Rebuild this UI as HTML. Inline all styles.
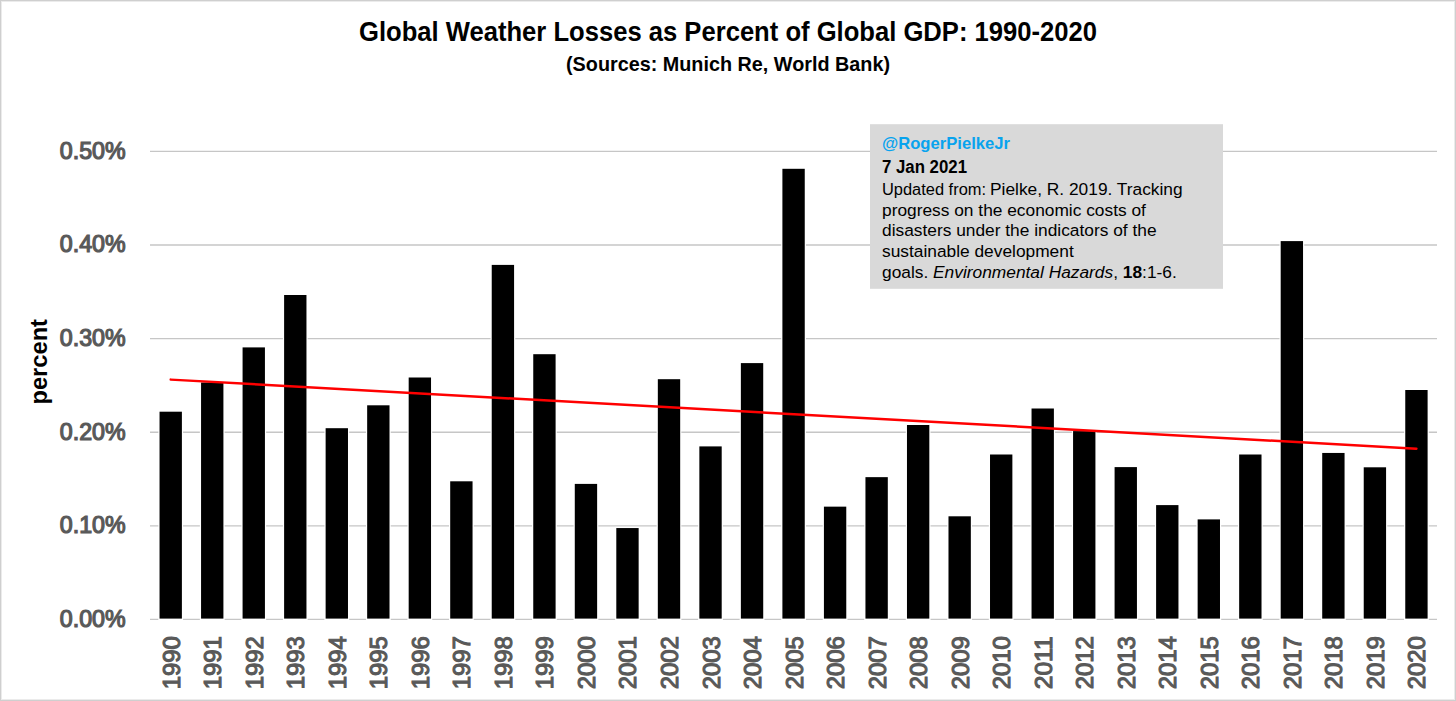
<!DOCTYPE html><html><head><meta charset="utf-8"><title>Global Weather Losses as Percent of Global GDP: 1990-2020</title><style>html,body{margin:0;padding:0;background:#fff;}body{width:1456px;height:701px;overflow:hidden;}svg{display:block;}text{font-family:"Liberation Sans",Arial,sans-serif;}</style></head><body><svg width="1456" height="701" viewBox="0 0 1456 701"><rect x="0" y="0" width="1456" height="701" fill="#ffffff"/><rect x="1.5" y="1.5" width="1453" height="698" fill="none" stroke="#ebebeb" stroke-width="1"/><rect x="0.5" y="0.5" width="1455" height="700" fill="none" stroke="#cfcfcf" stroke-width="1"/><text x="728" y="41.4" text-anchor="middle" font-size="26.8" font-weight="bold" fill="#000" textLength="738" lengthAdjust="spacingAndGlyphs">Global Weather Losses as Percent of Global GDP: 1990-2020</text><text x="728" y="70.7" text-anchor="middle" font-size="19.7" font-weight="bold" fill="#000" textLength="324" lengthAdjust="spacingAndGlyphs">(Sources: Munich Re, World Bank)</text><line x1="150" y1="525.84" x2="1437" y2="525.84" stroke="#c6c6c6" stroke-width="1.3"/><line x1="150" y1="432.23" x2="1437" y2="432.23" stroke="#c6c6c6" stroke-width="1.3"/><line x1="150" y1="338.62" x2="1437" y2="338.62" stroke="#c6c6c6" stroke-width="1.3"/><line x1="150" y1="245.01" x2="1437" y2="245.01" stroke="#c6c6c6" stroke-width="1.3"/><line x1="150" y1="151.40" x2="1437" y2="151.40" stroke="#c6c6c6" stroke-width="1.3"/><text x="125.6" y="626.75" text-anchor="end" font-size="23" fill="#595959" stroke="#595959" stroke-width="1.2" textLength="65.8" lengthAdjust="spacingAndGlyphs">0.00%</text><text x="125.6" y="533.14" text-anchor="end" font-size="23" fill="#595959" stroke="#595959" stroke-width="1.2" textLength="65.8" lengthAdjust="spacingAndGlyphs">0.10%</text><text x="125.6" y="439.53" text-anchor="end" font-size="23" fill="#595959" stroke="#595959" stroke-width="1.2" textLength="65.8" lengthAdjust="spacingAndGlyphs">0.20%</text><text x="125.6" y="345.92" text-anchor="end" font-size="23" fill="#595959" stroke="#595959" stroke-width="1.2" textLength="65.8" lengthAdjust="spacingAndGlyphs">0.30%</text><text x="125.6" y="252.31" text-anchor="end" font-size="23" fill="#595959" stroke="#595959" stroke-width="1.2" textLength="65.8" lengthAdjust="spacingAndGlyphs">0.40%</text><text x="125.6" y="158.70" text-anchor="end" font-size="23" fill="#595959" stroke="#595959" stroke-width="1.2" textLength="65.8" lengthAdjust="spacingAndGlyphs">0.50%</text><line x1="150" y1="619.45" x2="1437" y2="619.45" stroke="#c6c6c6" stroke-width="1.3"/><rect x="158.34" y="410.50" width="24.75" height="209.90" fill="#fff"/><rect x="159.54" y="411.70" width="22.35" height="206.90" fill="#000"/><rect x="199.86" y="381.30" width="24.75" height="239.10" fill="#fff"/><rect x="201.06" y="382.50" width="22.35" height="236.10" fill="#000"/><rect x="241.38" y="346.20" width="24.75" height="274.20" fill="#fff"/><rect x="242.58" y="347.40" width="22.35" height="271.20" fill="#000"/><rect x="282.91" y="293.80" width="24.75" height="326.60" fill="#fff"/><rect x="284.11" y="295.00" width="22.35" height="323.60" fill="#000"/><rect x="324.43" y="427.00" width="24.75" height="193.40" fill="#fff"/><rect x="325.63" y="428.20" width="22.35" height="190.40" fill="#000"/><rect x="365.96" y="404.10" width="24.75" height="216.30" fill="#fff"/><rect x="367.16" y="405.30" width="22.35" height="213.30" fill="#000"/><rect x="407.48" y="376.30" width="24.75" height="244.10" fill="#fff"/><rect x="408.68" y="377.50" width="22.35" height="241.10" fill="#000"/><rect x="449.00" y="480.10" width="24.75" height="140.30" fill="#fff"/><rect x="450.20" y="481.30" width="22.35" height="137.30" fill="#000"/><rect x="490.53" y="263.70" width="24.75" height="356.70" fill="#fff"/><rect x="491.73" y="264.90" width="22.35" height="353.70" fill="#000"/><rect x="532.05" y="353.00" width="24.75" height="267.40" fill="#fff"/><rect x="533.25" y="354.20" width="22.35" height="264.40" fill="#000"/><rect x="573.58" y="482.70" width="24.75" height="137.70" fill="#fff"/><rect x="574.78" y="483.90" width="22.35" height="134.70" fill="#000"/><rect x="615.10" y="526.85" width="24.75" height="93.55" fill="#fff"/><rect x="616.30" y="528.05" width="22.35" height="90.55" fill="#000"/><rect x="656.62" y="378.00" width="24.75" height="242.40" fill="#fff"/><rect x="657.83" y="379.20" width="22.35" height="239.40" fill="#000"/><rect x="698.15" y="445.20" width="24.75" height="175.20" fill="#fff"/><rect x="699.35" y="446.40" width="22.35" height="172.20" fill="#000"/><rect x="739.67" y="361.90" width="24.75" height="258.50" fill="#fff"/><rect x="740.87" y="363.10" width="22.35" height="255.50" fill="#000"/><rect x="781.20" y="167.60" width="24.75" height="452.80" fill="#fff"/><rect x="782.40" y="168.80" width="22.35" height="449.80" fill="#000"/><rect x="822.72" y="505.45" width="24.75" height="114.95" fill="#fff"/><rect x="823.92" y="506.65" width="22.35" height="111.95" fill="#000"/><rect x="864.25" y="475.95" width="24.75" height="144.45" fill="#fff"/><rect x="865.45" y="477.15" width="22.35" height="141.45" fill="#000"/><rect x="905.77" y="423.80" width="24.75" height="196.60" fill="#fff"/><rect x="906.97" y="425.00" width="22.35" height="193.60" fill="#000"/><rect x="947.29" y="515.10" width="24.75" height="105.30" fill="#fff"/><rect x="948.49" y="516.30" width="22.35" height="102.30" fill="#000"/><rect x="988.82" y="453.30" width="24.75" height="167.10" fill="#fff"/><rect x="990.02" y="454.50" width="22.35" height="164.10" fill="#000"/><rect x="1030.34" y="407.30" width="24.75" height="213.10" fill="#fff"/><rect x="1031.54" y="408.50" width="22.35" height="210.10" fill="#000"/><rect x="1071.87" y="429.90" width="24.75" height="190.50" fill="#fff"/><rect x="1073.07" y="431.10" width="22.35" height="187.50" fill="#000"/><rect x="1113.39" y="465.90" width="24.75" height="154.50" fill="#fff"/><rect x="1114.59" y="467.10" width="22.35" height="151.50" fill="#000"/><rect x="1154.91" y="503.90" width="24.75" height="116.50" fill="#fff"/><rect x="1156.11" y="505.10" width="22.35" height="113.50" fill="#000"/><rect x="1196.44" y="518.20" width="24.75" height="102.20" fill="#fff"/><rect x="1197.64" y="519.40" width="22.35" height="99.20" fill="#000"/><rect x="1237.96" y="453.30" width="24.75" height="167.10" fill="#fff"/><rect x="1239.16" y="454.50" width="22.35" height="164.10" fill="#000"/><rect x="1279.49" y="239.90" width="24.75" height="380.50" fill="#fff"/><rect x="1280.69" y="241.10" width="22.35" height="377.50" fill="#000"/><rect x="1321.01" y="451.75" width="24.75" height="168.65" fill="#fff"/><rect x="1322.21" y="452.95" width="22.35" height="165.65" fill="#000"/><rect x="1362.53" y="466.10" width="24.75" height="154.30" fill="#fff"/><rect x="1363.73" y="467.30" width="22.35" height="151.30" fill="#000"/><rect x="1404.06" y="388.80" width="24.75" height="231.60" fill="#fff"/><rect x="1405.26" y="390.00" width="22.35" height="228.60" fill="#000"/><text transform="translate(179.71,636.3) rotate(-90)" text-anchor="end" font-size="23" fill="#595959" stroke="#595959" stroke-width="1.1" textLength="53.0" lengthAdjust="spacingAndGlyphs">1990</text><text transform="translate(221.24,636.3) rotate(-90)" text-anchor="end" font-size="23" fill="#595959" stroke="#595959" stroke-width="1.1" textLength="53.0" lengthAdjust="spacingAndGlyphs">1991</text><text transform="translate(262.76,636.3) rotate(-90)" text-anchor="end" font-size="23" fill="#595959" stroke="#595959" stroke-width="1.1" textLength="53.0" lengthAdjust="spacingAndGlyphs">1992</text><text transform="translate(304.28,636.3) rotate(-90)" text-anchor="end" font-size="23" fill="#595959" stroke="#595959" stroke-width="1.1" textLength="53.0" lengthAdjust="spacingAndGlyphs">1993</text><text transform="translate(345.81,636.3) rotate(-90)" text-anchor="end" font-size="23" fill="#595959" stroke="#595959" stroke-width="1.1" textLength="53.0" lengthAdjust="spacingAndGlyphs">1994</text><text transform="translate(387.33,636.3) rotate(-90)" text-anchor="end" font-size="23" fill="#595959" stroke="#595959" stroke-width="1.1" textLength="53.0" lengthAdjust="spacingAndGlyphs">1995</text><text transform="translate(428.86,636.3) rotate(-90)" text-anchor="end" font-size="23" fill="#595959" stroke="#595959" stroke-width="1.1" textLength="53.0" lengthAdjust="spacingAndGlyphs">1996</text><text transform="translate(470.38,636.3) rotate(-90)" text-anchor="end" font-size="23" fill="#595959" stroke="#595959" stroke-width="1.1" textLength="53.0" lengthAdjust="spacingAndGlyphs">1997</text><text transform="translate(511.90,636.3) rotate(-90)" text-anchor="end" font-size="23" fill="#595959" stroke="#595959" stroke-width="1.1" textLength="53.0" lengthAdjust="spacingAndGlyphs">1998</text><text transform="translate(553.43,636.3) rotate(-90)" text-anchor="end" font-size="23" fill="#595959" stroke="#595959" stroke-width="1.1" textLength="53.0" lengthAdjust="spacingAndGlyphs">1999</text><text transform="translate(594.95,636.3) rotate(-90)" text-anchor="end" font-size="23" fill="#595959" stroke="#595959" stroke-width="1.1" textLength="53.0" lengthAdjust="spacingAndGlyphs">2000</text><text transform="translate(636.48,636.3) rotate(-90)" text-anchor="end" font-size="23" fill="#595959" stroke="#595959" stroke-width="1.1" textLength="53.0" lengthAdjust="spacingAndGlyphs">2001</text><text transform="translate(678.00,636.3) rotate(-90)" text-anchor="end" font-size="23" fill="#595959" stroke="#595959" stroke-width="1.1" textLength="53.0" lengthAdjust="spacingAndGlyphs">2002</text><text transform="translate(719.52,636.3) rotate(-90)" text-anchor="end" font-size="23" fill="#595959" stroke="#595959" stroke-width="1.1" textLength="53.0" lengthAdjust="spacingAndGlyphs">2003</text><text transform="translate(761.05,636.3) rotate(-90)" text-anchor="end" font-size="23" fill="#595959" stroke="#595959" stroke-width="1.1" textLength="53.0" lengthAdjust="spacingAndGlyphs">2004</text><text transform="translate(802.57,636.3) rotate(-90)" text-anchor="end" font-size="23" fill="#595959" stroke="#595959" stroke-width="1.1" textLength="53.0" lengthAdjust="spacingAndGlyphs">2005</text><text transform="translate(844.10,636.3) rotate(-90)" text-anchor="end" font-size="23" fill="#595959" stroke="#595959" stroke-width="1.1" textLength="53.0" lengthAdjust="spacingAndGlyphs">2006</text><text transform="translate(885.62,636.3) rotate(-90)" text-anchor="end" font-size="23" fill="#595959" stroke="#595959" stroke-width="1.1" textLength="53.0" lengthAdjust="spacingAndGlyphs">2007</text><text transform="translate(927.14,636.3) rotate(-90)" text-anchor="end" font-size="23" fill="#595959" stroke="#595959" stroke-width="1.1" textLength="53.0" lengthAdjust="spacingAndGlyphs">2008</text><text transform="translate(968.67,636.3) rotate(-90)" text-anchor="end" font-size="23" fill="#595959" stroke="#595959" stroke-width="1.1" textLength="53.0" lengthAdjust="spacingAndGlyphs">2009</text><text transform="translate(1010.19,636.3) rotate(-90)" text-anchor="end" font-size="23" fill="#595959" stroke="#595959" stroke-width="1.1" textLength="53.0" lengthAdjust="spacingAndGlyphs">2010</text><text transform="translate(1051.72,636.3) rotate(-90)" text-anchor="end" font-size="23" fill="#595959" stroke="#595959" stroke-width="1.1" textLength="53.0" lengthAdjust="spacingAndGlyphs">2011</text><text transform="translate(1093.24,636.3) rotate(-90)" text-anchor="end" font-size="23" fill="#595959" stroke="#595959" stroke-width="1.1" textLength="53.0" lengthAdjust="spacingAndGlyphs">2012</text><text transform="translate(1134.76,636.3) rotate(-90)" text-anchor="end" font-size="23" fill="#595959" stroke="#595959" stroke-width="1.1" textLength="53.0" lengthAdjust="spacingAndGlyphs">2013</text><text transform="translate(1176.29,636.3) rotate(-90)" text-anchor="end" font-size="23" fill="#595959" stroke="#595959" stroke-width="1.1" textLength="53.0" lengthAdjust="spacingAndGlyphs">2014</text><text transform="translate(1217.81,636.3) rotate(-90)" text-anchor="end" font-size="23" fill="#595959" stroke="#595959" stroke-width="1.1" textLength="53.0" lengthAdjust="spacingAndGlyphs">2015</text><text transform="translate(1259.34,636.3) rotate(-90)" text-anchor="end" font-size="23" fill="#595959" stroke="#595959" stroke-width="1.1" textLength="53.0" lengthAdjust="spacingAndGlyphs">2016</text><text transform="translate(1300.86,636.3) rotate(-90)" text-anchor="end" font-size="23" fill="#595959" stroke="#595959" stroke-width="1.1" textLength="53.0" lengthAdjust="spacingAndGlyphs">2017</text><text transform="translate(1342.38,636.3) rotate(-90)" text-anchor="end" font-size="23" fill="#595959" stroke="#595959" stroke-width="1.1" textLength="53.0" lengthAdjust="spacingAndGlyphs">2018</text><text transform="translate(1383.91,636.3) rotate(-90)" text-anchor="end" font-size="23" fill="#595959" stroke="#595959" stroke-width="1.1" textLength="53.0" lengthAdjust="spacingAndGlyphs">2019</text><text transform="translate(1425.43,636.3) rotate(-90)" text-anchor="end" font-size="23" fill="#595959" stroke="#595959" stroke-width="1.1" textLength="53.0" lengthAdjust="spacingAndGlyphs">2020</text><line x1="170.71" y1="379.6" x2="1416.43" y2="448.7" stroke="#ff0000" stroke-width="2.45" stroke-linecap="round"/><text transform="translate(47.2,361.8) rotate(-90)" text-anchor="middle" font-size="23" font-weight="bold" fill="#000" textLength="85.6" lengthAdjust="spacingAndGlyphs">percent</text><rect x="870" y="124.2" width="353" height="164.6" fill="#d9d9d9"/><text x="882" y="148.7" font-size="17" font-weight="bold" fill="#08a3ee" textLength="128" lengthAdjust="spacingAndGlyphs">@RogerPielkeJr</text><text x="882" y="172.8" font-size="17.6" font-weight="bold" fill="#000" textLength="85" lengthAdjust="spacingAndGlyphs">7 Jan 2021</text><text x="882" y="194.7" font-size="16" fill="#000" textLength="104" lengthAdjust="spacingAndGlyphs">Updated from:</text><text x="990" y="194.7" font-size="17.33" fill="#000">Pielke, R. 2019. Tracking</text><text x="882" y="215.9" font-size="17.33" fill="#000">progress on the economic costs of</text><text x="882" y="236.4" font-size="17.33" fill="#000">disasters under the indicators of the</text><text x="882" y="256.9" font-size="17.33" fill="#000">sustainable development</text><text x="882" y="277.7" font-size="17.33" fill="#000">goals. <tspan font-style="italic">Environmental Hazards</tspan>, <tspan font-weight="bold">18</tspan>:1-6.</text></svg></body></html>
